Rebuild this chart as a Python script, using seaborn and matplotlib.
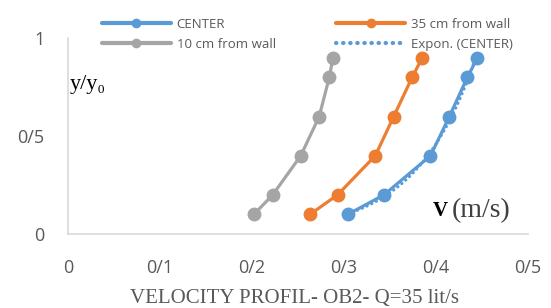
import numpy as np
import pandas as pd
import matplotlib
matplotlib.use("Agg")
import matplotlib.pyplot as plt
import seaborn as sns

y_ratio = [0.1, 0.2, 0.4, 0.6, 0.8, 0.9]
v_center = [0.304, 0.3435, 0.394, 0.4145, 0.434, 0.445]
v_35cm = [0.263, 0.293, 0.334, 0.354, 0.374, 0.385]
v_10cm = [0.202, 0.2225, 0.253, 0.273, 0.284, 0.288]
series_names = ["CENTER", "35 cm from wall", "10 cm from wall"]
series_colors = ["#5B9BD5", "#ED7D31", "#A5A5A5"]
x_ticks = [0, 0.1, 0.2, 0.3, 0.4, 0.5]
x_ticklabels = ["0", "0/1", "0/2", "0/3", "0/4", "0/5"]
y_ticks = [0, 0.5, 1]
y_ticklabels = ["0", "0/5", "1"]

sns.set_theme(style="white")
plt.rcParams["font.family"] = ["Open Sans", "DejaVu Sans"]

fig = plt.figure(figsize=(5.51, 3.08), dpi=100)
ax = fig.add_axes([68 / 551, 1 - 234 / 308, 460 / 551, (234 - 38.3) / 308])

frames = []
for name, vals in zip(series_names, [v_center, v_35cm, v_10cm]):
    frames.append(pd.DataFrame({"v": vals, "y": y_ratio, "series": name}))
df = pd.concat(frames, ignore_index=True)

handles = {}
for name, col in zip(series_names, series_colors):
    sub = df[df["series"] == name]
    sns.lineplot(data=sub, x="v", y="y", ax=ax, color=col, lw=2.3,
                 marker="o", markersize=10, markeredgewidth=0, sort=False,
                 legend=False)
    handles[name] = ax.lines[-1]

# Excel style exponential trendline on CENTER: ln(y) = b*x + ln(a)
b, ln_a = np.polyfit(v_center, np.log(y_ratio), 1)
xs = np.linspace(min(v_center), max(v_center), 60)
trend = pd.DataFrame({"v": xs, "y": np.exp(ln_a) * np.exp(b * xs)})
sns.lineplot(data=trend, x="v", y="y", ax=ax, color="#5B9BD5", lw=2.2,
             linestyle=(0, (0.1, 1.6)), dash_capstyle="round", sort=False,
             legend=False)
handles["Expon. (CENTER)"] = ax.lines[-1]

if ax.get_legend() is not None:
    ax.get_legend().remove()

ax.set_xlim(0, 0.5)
ax.set_ylim(0, 1)
ax.set_xticks(x_ticks)
ax.set_xticklabels(x_ticklabels)
ax.set_yticks(y_ticks)
ax.set_yticklabels(y_ticklabels)
ax.tick_params(axis="both", length=0, labelsize=13, labelcolor="#595959")
ax.tick_params(axis="x", pad=18)
ax.tick_params(axis="y", pad=17)
ax.set_xlabel("")
ax.set_ylabel("")
for side in ["top", "right"]:
    ax.spines[side].set_visible(False)
for side in ["left", "bottom"]:
    ax.spines[side].set_color("#D9D9D9")
    ax.spines[side].set_linewidth(1.2)

order = ["CENTER", "10 cm from wall", "35 cm from wall", "Expon. (CENTER)"]
leg = fig.legend([handles[k] for k in order], order, ncol=2, loc="upper left",
                 bbox_to_anchor=(102 / 551, 1 - 18 / 308), frameon=False,
                 fontsize=9.5, handlelength=5.2, handletextpad=0.45,
                 columnspacing=4.6, labelspacing=0.5, borderpad=0,
                 borderaxespad=0)
for t in leg.get_texts():
    t.set_color("#595959")
for h in leg.legend_handles:
    h.set_markersize(7)
    h.set_linewidth(3)

serif = ["Liberation Serif", "DejaVu Serif"]
fig.text(70 / 551, 1 - 85 / 308, "y/y\u2080", family=serif, fontsize=16,
         color="black", va="center", ha="left")
fig.text(433 / 551, 1 - 211 / 308, "V", family=serif, fontsize=15,
         fontweight="bold", color="black", va="center", ha="left")
fig.text(452 / 551, 1 - 211 / 308, "(m/s)", family=serif, fontsize=20,
         color="#404040", va="center", ha="left")
fig.text(295 / 551, 1 - 298 / 308, "VELOCITY PROFIL- OB2- Q=35 lit/s",
         family=serif, fontsize=15, color="#595959", va="center", ha="center")

fig.savefig("out.png", dpi=100)
